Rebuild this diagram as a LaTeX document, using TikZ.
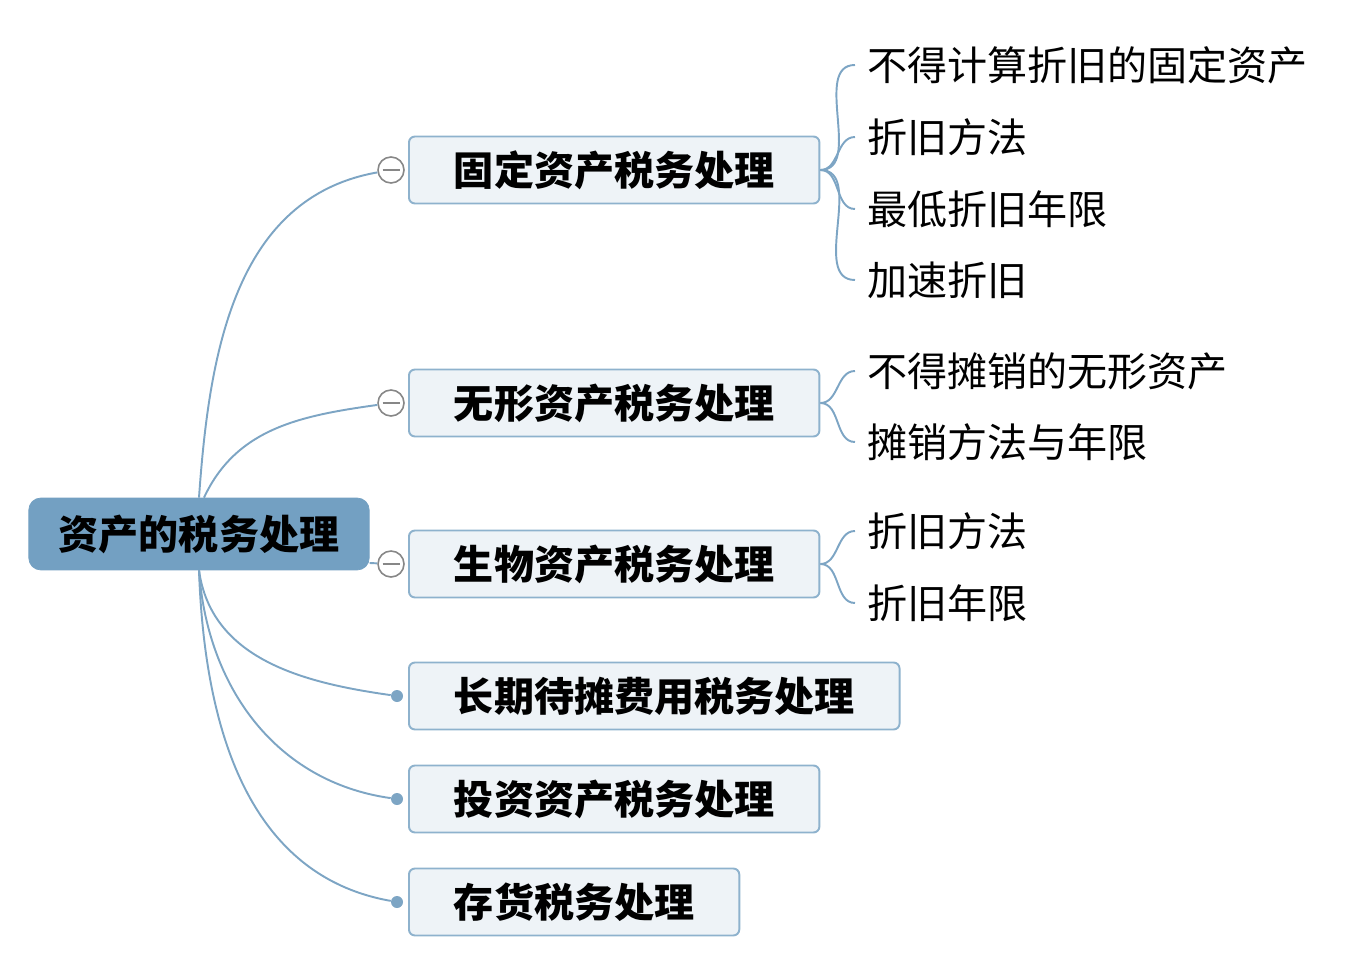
\documentclass[tikz,border=0pt]{standalone}
\usepackage{fontspec}
\newfontfamily\cjk{Noto Sans CJK SC}
\usetikzlibrary{positioning}
\definecolor{rootblue}{RGB}{115,160,194}
\definecolor{linkblue}{RGB}{125,165,196}
\definecolor{topicfill}{RGB}{238,243,247}
\definecolor{topicline}{RGB}{142,178,205}
\definecolor{knobgrey}{RGB}{135,135,135}
\def\Root{资产的税务处理}
\def\Size{\fontsize{22.8}{27}\selectfont}

\begin{document}
\begin{tikzpicture}[x=0.02cm,y=0.02cm,% pixel grid of the mind map, y goes up
				every node/.style={
					font=\cjk\Size	% same size for all three levels
				},
				roottopic/.style={rectangle,rounded corners=0.24cm,fill=rootblue,draw=rootblue,
					font=\cjk\bfseries\Size,minimum height=1.44cm,inner xsep=0.6cm},
				topic/.style={rectangle,rounded corners=0.12cm,draw=topicline,line width=1.1pt,fill=topicfill,
					font=\cjk\bfseries\Size,minimum height=1.34cm,inner xsep=0.9cm,anchor=west},
				subtopic/.style={inner xsep=0.24cm,inner ysep=0pt,anchor=west},
				knob/.style={circle,draw=knobgrey,fill=white,line width=0.9pt,minimum size=0.52cm,inner sep=0pt,
					path picture={\draw[knobgrey,line width=1.3pt]
						([xshift=-0.17cm]path picture bounding box.center) -- ([xshift=0.17cm]path picture bounding box.center);}},
				knobdot/.style={circle,fill=linkblue,minimum size=0.24cm,inner sep=0pt},
				every edge/.style={draw,linkblue,line width=1.1pt}
			]
			\useasboundingbox (0,0) rectangle (1359,-966);
			\node[roottopic](R) at (199,-534){\Root};
			% main topics
			\node[topic](T1) at (408,-170){固定资产税务处理};
			\node[topic](T2) at (408,-403){无形资产税务处理};
			\node[topic](T3) at (408,-564){生物资产税务处理};
			\node[topic](T4) at (408,-696){长期待摊费用税务处理};
			\node[topic](T5) at (408,-799){投资资产税务处理};
			\node[topic](T6) at (408,-902){存货税务处理};
			% collapse knobs and end dots
			\node[knob](K1) at (391,-170){};
			\node[knob](K2) at (391,-403){};
			\node[knob](K3) at (391,-564){};
			\node[knobdot](D4) at (397,-696){};
			\node[knobdot](D5) at (397,-799){};
			\node[knobdot](D6) at (397,-902){};
			% subtopics
			\node[subtopic](L11) at (855,-65){不得计算折旧的固定资产};
			\node[subtopic](L12) at (855,-137){折旧方法};
			\node[subtopic](L13) at (855,-209){最低折旧年限};
			\node[subtopic](L14) at (855,-280){加速折旧};
			\node[subtopic](L21) at (855,-371){不得摊销的无形资产};
			\node[subtopic](L22) at (855,-442){摊销方法与年限};
			\node[subtopic](L31) at (855,-531){折旧方法};
			\node[subtopic](L32) at (855,-603){折旧年限};
			\path
			(R.north)edge [out=86,in=190] (K1)
			([xshift=0.1cm]R.north)edge [out=65,in=188] (K2)
			([yshift=-0.58cm]R.east)edge [] (K3)
			(R.south)edge [out=-82,in=172] (D4)
			(R.south)edge [out=-86,in=172] (D5)
			(R.south)edge [out=-88,in=170] (D6)
			(T1.east)edge [out=0,in=180] (L11)
			(T1.east)edge [out=0,in=180] (L12)
			(T1.east)edge [out=0,in=180] (L13)
			(T1.east)edge [out=0,in=180] (L14)
			(T2.east)edge [out=0,in=180] (L21)
			(T2.east)edge [out=0,in=180] (L22)
			(T3.east)edge [out=0,in=180] (L31)
			(T3.east)edge [out=0,in=180] (L32)
			;
		\end{tikzpicture}
\end{document}
